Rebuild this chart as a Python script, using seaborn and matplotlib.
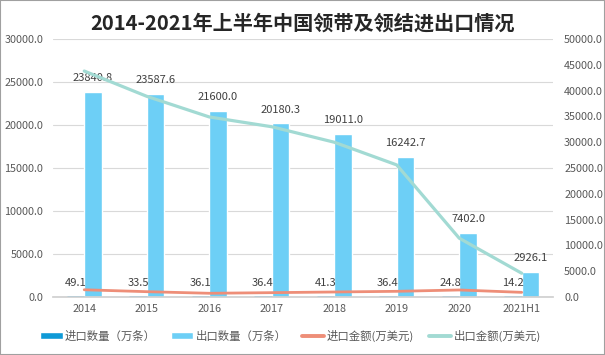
import numpy as np
import pandas as pd
import matplotlib
matplotlib.use("Agg")
import matplotlib.pyplot as plt
import seaborn as sns
from matplotlib.patches import Patch, Rectangle
from matplotlib.lines import Line2D
from matplotlib.ticker import FormatStrFormatter, MultipleLocator

years = ["2014", "2015", "2016", "2017", "2018", "2019", "2020", "2021H1"]
import_qty = [49.1, 33.5, 36.1, 36.4, 41.3, 36.4, 24.8, 14.2]
export_qty = [23840.8, 23587.6, 21600.0, 20180.3, 19011.0, 16242.7, 7402.0, 2926.1]
import_amt = [1400, 1030, 720, 840, 970, 1100, 1360, 900]
export_amt = [43800, 38900, 34900, 33000, 30000, 25600, 11400, 4600]

series_names = ["进口数量（万条）", "出口数量（万条）", "进口金额(万美元)", "出口金额(万美元)"]
c_imp_bar = "#0F9AD7"
c_exp_bar = "#6DCFF6"
c_imp_line = "#EE8E78"
c_exp_line = "#A2DAD3"
txt = "#595959"

sns.set_theme(style="white")
plt.rcParams["font.family"] = ["Noto Sans CJK SC", "DejaVu Sans"]

bars = pd.DataFrame({
    "year": years * 2,
    "value": import_qty + export_qty,
    "series": [series_names[0]] * len(years) + [series_names[1]] * len(years),
})
lines = pd.DataFrame({
    "idx": np.arange(len(years)),
    "imp": import_amt,
    "exp": export_amt,
})

fig = plt.figure(figsize=(6.05, 3.55), dpi=100)
ax = fig.add_axes([0.0876, 0.1634, 0.8264, 0.7266])

sns.barplot(data=bars, x="year", y="value", hue="series",
            palette=[c_imp_bar, c_exp_bar], width=0.56, gap=0,
            saturation=1, ax=ax, legend=False, zorder=2)

# make the tiny import bars visible as thin strokes (as in the reference)
for rect in ax.containers[0]:
    rect.set_edgecolor(c_imp_bar)
    rect.set_linewidth(0.9)
    rect.set_zorder(3)

ax.set_ylim(0, 30000)
ax.yaxis.set_major_locator(MultipleLocator(5000))
ax.yaxis.set_major_formatter(FormatStrFormatter("%.1f"))
ax.set_xlim(-0.5, len(years) - 0.5)
ax.grid(axis="y", color="#D9D9D9", lw=0.8, zorder=0)
ax.set_axisbelow(True)
for s in ["top", "right", "left"]:
    ax.spines[s].set_visible(False)
ax.spines["bottom"].set_color("#D0D0D0")
ax.tick_params(axis="y", length=0, labelsize=7.8, colors=txt, pad=7)
ax.tick_params(axis="x", length=0, labelsize=7.8, colors=txt, pad=5)
ax.set_xlabel("")
ax.set_ylabel("")

# data labels
for cont, vals in zip(ax.containers, [import_qty, export_qty]):
    for rect, v in zip(cont, vals):
        ax.annotate(f"{v:.1f}", (rect.get_x() + rect.get_width() / 2, rect.get_height()),
                    xytext=(0, 10), textcoords="offset points", ha="center", va="center",
                    fontsize=8, color="#404040", zorder=5)

ax2 = ax.twinx()
sns.lineplot(data=lines, x="idx", y="imp", color=c_imp_line, lw=2.0, ax=ax2, zorder=3)
sns.lineplot(data=lines, x="idx", y="exp", color=c_exp_line, lw=2.3, ax=ax2, zorder=3)
ax2.set_ylim(0, 50000)
ax2.yaxis.set_major_locator(MultipleLocator(5000))
ax2.yaxis.set_major_formatter(FormatStrFormatter("%.1f"))
ax2.set_xlim(-0.5, len(years) - 0.5)
for s in ["top", "right", "left", "bottom"]:
    ax2.spines[s].set_visible(False)
ax2.tick_params(axis="y", length=0, labelsize=7.8, colors=txt, pad=8)
ax2.set_ylabel("")
ax2.set_xlabel("")

fig.suptitle("2014-2021年上半年中国领带及领结进出口情况", x=0.5, y=0.965,
             fontsize=14.5, fontweight="bold", color="#262626")

handles = [Patch(facecolor=c_imp_bar), Patch(facecolor=c_exp_bar),
           Line2D([], [], color=c_imp_line, lw=2.8), Line2D([], [], color=c_exp_line, lw=2.8)]
fig.legend(handles, series_names, loc="center", bbox_to_anchor=(0.48, 0.055), ncol=4,
           frameon=False, fontsize=8.2, handlelength=2.0, handleheight=0.6,
           handletextpad=0.2, columnspacing=1.3, labelcolor=txt)

fig.patches.append(Rectangle((0, 0), 1, 1, transform=fig.transFigure, fill=False,
                             edgecolor="#A0A0A0", lw=1.5))

fig.savefig("out.png", dpi=100)
